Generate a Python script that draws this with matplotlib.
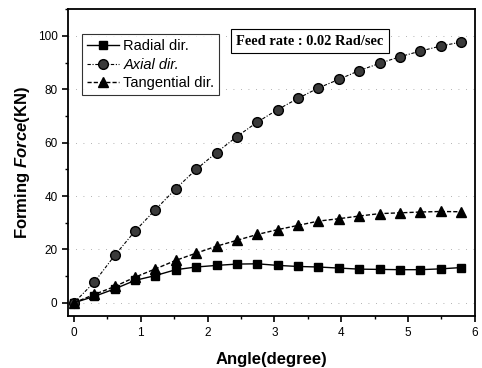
import numpy as np
import matplotlib
matplotlib.use('Agg')
import matplotlib.pyplot as plt
from matplotlib.ticker import MultipleLocator

plt.rcParams['font.family'] = 'Liberation Sans'
plt.rcParams['mathtext.fontset'] = 'custom'
plt.rcParams['mathtext.rm'] = 'Liberation Sans:bold'
plt.rcParams['mathtext.it'] = 'Liberation Sans:bold:italic'

# data
angle = [0.0, 0.305, 0.61, 0.915, 1.22, 1.525, 1.83, 2.135, 2.44, 2.745,
         3.05, 3.355, 3.66, 3.965, 4.27, 4.575, 4.88, 5.185, 5.49, 5.8]
radial = [0.0, 2.4, 5.2, 8.4, 10.2, 12.4, 13.4, 14.0, 14.5, 14.6,
          14.0, 13.6, 13.4, 13.0, 12.6, 12.5, 12.4, 12.4, 12.7, 13.2]
axial = [0.0, 7.75, 17.75, 26.9, 34.9, 42.75, 50.0, 56.3, 62.3, 67.7,
         72.4, 76.6, 80.5, 83.7, 87.0, 89.7, 92.2, 94.3, 96.2, 97.7]
tangential = [0.0, 3.1, 6.1, 9.6, 12.7, 15.9, 18.6, 21.2, 23.4, 25.6,
              27.4, 29.0, 30.6, 31.5, 32.5, 33.4, 33.7, 34.0, 34.2, 34.1]

fig = plt.figure(figsize=(4.82, 3.68), dpi=100)
ax = fig.add_axes([0.141, 0.141, 0.844, 0.834])

ax.plot(angle, radial, '-', color='black', lw=1.0, marker='s', ms=6,
        mfc='black', mec='black', label='Radial dir.', zorder=3)
ax.plot(angle, axial, linestyle=(0, (3, 1.5, 1, 1.5)), color='black', lw=0.8,
        marker='o', ms=7, mfc='#3a3a3a', mec='black', mew=1.0,
        label='Axial dir.', zorder=3)
ax.plot(angle, tangential, '--', dashes=(3, 1.5), color='black', lw=1.0,
        marker='^', ms=7, mfc='black', mec='black', label='Tangential dir.', zorder=3)

ax.set_xlim(-0.09, 6.0)
ax.set_ylim(-5, 110)
ax.xaxis.set_major_locator(MultipleLocator(1))
ax.xaxis.set_minor_locator(MultipleLocator(0.5))
ax.yaxis.set_major_locator(MultipleLocator(20))
ax.yaxis.set_minor_locator(MultipleLocator(10))
ax.tick_params(which='major', direction='out', length=4, width=1.2, labelsize=8.5)
ax.tick_params(which='minor', direction='out', length=2.5, width=1.0)
ax.tick_params(top=False, right=False, which='both')
for s in ax.spines.values():
    s.set_linewidth(1.3)

ax.yaxis.grid(True, linestyle=(0, (1, 8)), color='#999999', lw=0.6)

ax.set_xlabel('Angle(degree)', fontsize=12, fontweight='bold', labelpad=10)
ax.set_ylabel(r'$\mathrm{Forming}\ \mathit{Force}\mathrm{(KN)}$', fontsize=12, labelpad=4)

leg = ax.legend(loc='upper left', bbox_to_anchor=(0.034, 0.918), fontsize=10.5,
                frameon=True, fancybox=False, borderaxespad=0, handlelength=2.2,
                handletextpad=0.3, borderpad=0.35, labelspacing=0.3)
leg.get_frame().set_edgecolor('black')
leg.get_frame().set_linewidth(0.8)
leg.get_texts()[1].set_style('italic')

ax.text(0.595, 0.896, 'Feed rate : 0.02 Rad/sec', transform=ax.transAxes,
        ha='center', va='center', fontsize=10.4, fontweight='bold',
        family='Liberation Serif',
        bbox=dict(boxstyle='square,pad=0.4', fc='white', ec='black', lw=0.8))

fig.savefig('out.png', dpi=100)
